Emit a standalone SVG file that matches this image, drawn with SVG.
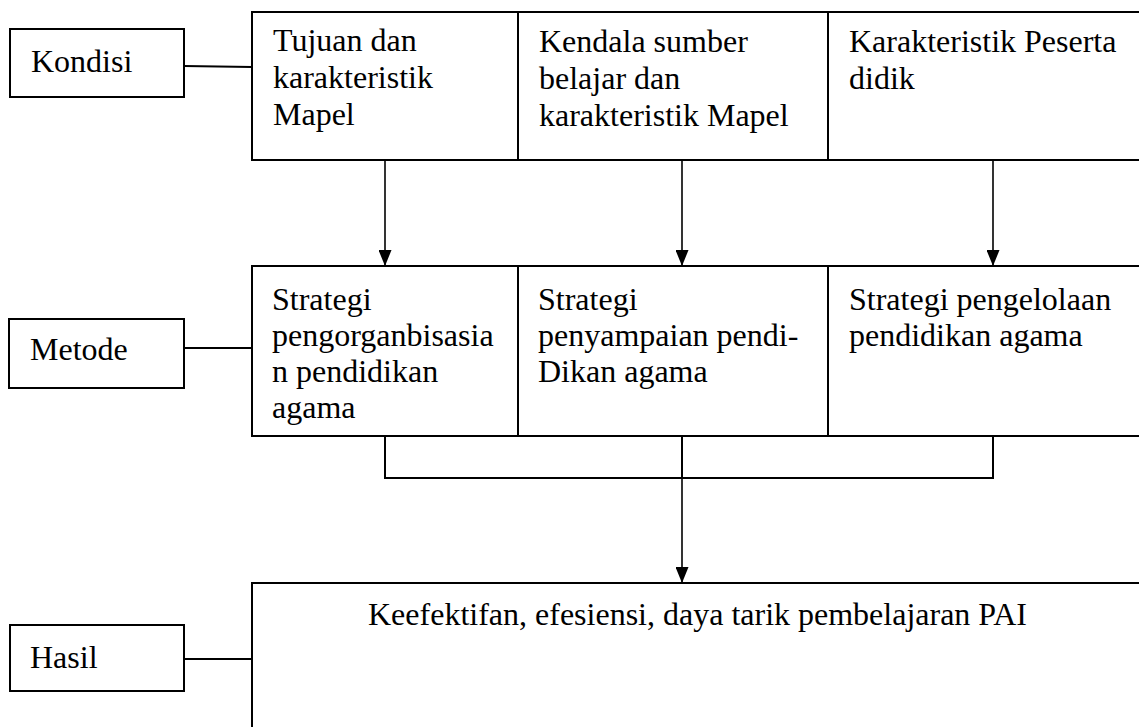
<svg xmlns="http://www.w3.org/2000/svg" width="1139" height="727" viewBox="0 0 1139 727">
  <style>
    .box { fill: #ffffff; stroke: #000000; stroke-width: 2; }
    .lbl { font-family: 'Liberation Serif', 'Times New Roman', 'DejaVu Serif', serif; font-size: 32px; fill: #000000; }
    .link { fill: none; stroke: #000000; stroke-width: 2; }
    .arrow { fill: none; stroke: #000000; stroke-width: 1.6; marker-end: url(#head); }
  </style>
  <defs>
    <!-- solid triangular arrowhead, tip on the end point -->
    <marker id="head" markerUnits="userSpaceOnUse" markerWidth="17" markerHeight="13" refX="16" refY="6.5" orient="auto" viewBox="0 0 17 13">
      <path d="M0,0 L16,6.5 L0,13 Z" fill="#000000"/>
    </marker>
  </defs>
  <rect width="1139" height="727" fill="#ffffff"/>

  <!-- row labels -->
  <g id="kondisi">
    <rect class="box" x="10" y="29" width="174" height="68"/>
    <text class="lbl" x="31" y="72">Kondisi</text>
  </g>
  <g id="metode">
    <rect class="box" x="9" y="319" width="175" height="69"/>
    <text class="lbl" x="30" y="360">Metode</text>
  </g>
  <g id="hasil">
    <rect class="box" x="10" y="625" width="174" height="66"/>
    <text class="lbl" x="30" y="668">Hasil</text>
  </g>

  <!-- conditions row -->
  <g id="kondisi-row">
    <rect class="box" x="252" y="12" width="900" height="148"/>
    <line class="link" x1="518" y1="12" x2="518" y2="160"/>
    <line class="link" x1="828" y1="12" x2="828" y2="160"/>
  </g>
  <g id="tujuan">
    <text class="lbl" x="273" y="51">Tujuan dan</text>
    <text class="lbl" x="273" y="88">karakteristik</text>
    <text class="lbl" x="273" y="125">Mapel</text>
  </g>
  <g id="kendala">
    <text class="lbl" x="539" y="52">Kendala sumber</text>
    <text class="lbl" x="539" y="89">belajar dan</text>
    <text class="lbl" x="539" y="126">karakteristik Mapel</text>
  </g>
  <g id="peserta">
    <text class="lbl" x="849" y="52">Karakteristik Peserta</text>
    <text class="lbl" x="849" y="89">didik</text>
  </g>

  <!-- method row -->
  <g id="metode-row">
    <rect class="box" x="252" y="266" width="900" height="170"/>
    <line class="link" x1="518" y1="266" x2="518" y2="436"/>
    <line class="link" x1="828" y1="266" x2="828" y2="436"/>
  </g>
  <g id="pengorganisasian">
    <text class="lbl" x="272" y="310">Strategi</text>
    <text class="lbl" x="272" y="346">pengorganbisasia</text>
    <text class="lbl" x="272" y="382">n pendidikan</text>
    <text class="lbl" x="272" y="418">agama</text>
  </g>
  <g id="penyampaian">
    <text class="lbl" x="538" y="310">Strategi</text>
    <text class="lbl" x="538" y="346">penyampaian pendi-</text>
    <text class="lbl" x="538" y="382">Dikan agama</text>
  </g>
  <g id="pengelolaan">
    <text class="lbl" x="849" y="310">Strategi pengelolaan</text>
    <text class="lbl" x="849" y="346">pendidikan agama</text>
  </g>

  <!-- outcome -->
  <g id="hasil-box">
    <path class="box" d="M252,740 L252,583 L1150,583"/>
    <text class="lbl" x="368" y="625">Keefektifan, efesiensi, daya tarik pembelajaran PAI</text>
  </g>

  <!-- connectors -->
  <g id="connectors">
    <line class="link" x1="184" y1="66" x2="252" y2="67"/>
    <line class="link" x1="184" y1="348" x2="252" y2="348"/>
    <line class="link" x1="184" y1="659" x2="252" y2="659"/>

    <line class="arrow" x1="385" y1="161" x2="385" y2="266"/>
    <line class="arrow" x1="682" y1="161" x2="682" y2="266"/>
    <line class="arrow" x1="993" y1="161" x2="993" y2="266"/>

    <path class="link" d="M385,437 L385,478 L993,478 L993,437"/>
    <line class="link" x1="682" y1="437" x2="682" y2="478"/>
    <line class="arrow" x1="682" y1="478" x2="682" y2="583"/>
  </g>
</svg>
